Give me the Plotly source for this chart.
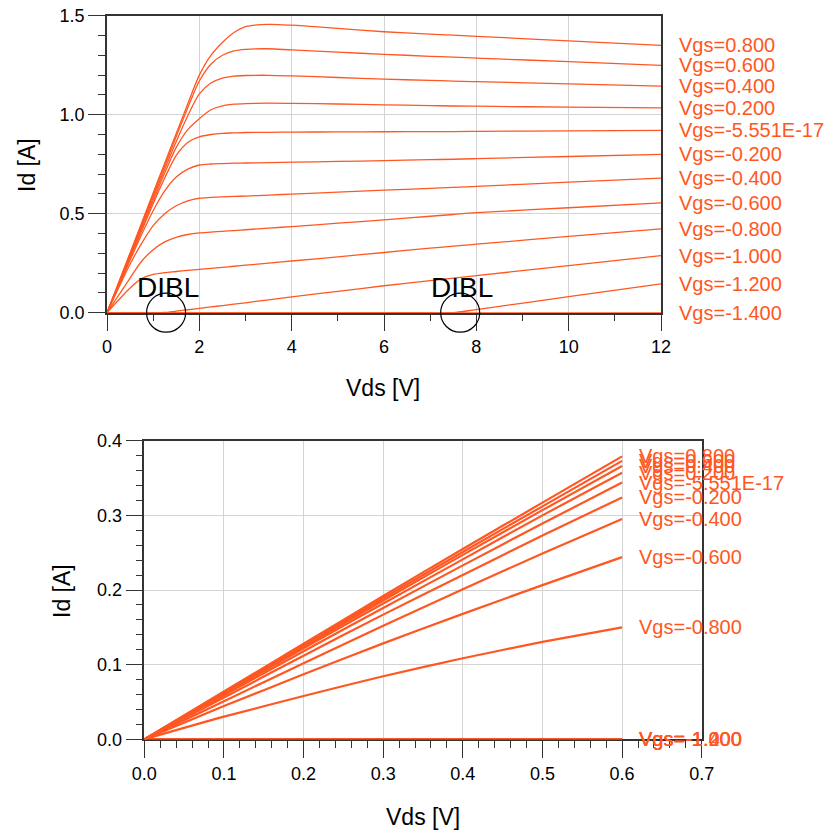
import plotly.graph_objects as go

# ---------------- data ----------------
vgs_labels = ["Vgs=0.800", "Vgs=0.600", "Vgs=0.400", "Vgs=0.200", "Vgs=-5.551E-17",
              "Vgs=-0.200", "Vgs=-0.400", "Vgs=-0.600", "Vgs=-0.800", "Vgs=-1.000",
              "Vgs=-1.200", "Vgs=-1.400"]

# output characteristics, Vds sweep 0..12 V
vds_out = [0, 0.5, 0.75, 1, 1.25, 1.5, 1.75, 2, 2.25, 2.5, 2.75, 3, 3.5, 4, 5, 6, 7, 7.5, 8, 10, 12]
id_out_p08 = [0, 0.302, 0.453, 0.605, 0.755, 0.905, 1.055, 1.200, 1.300, 1.365, 1.415, 1.445, 1.456, 1.452, 1.436, 1.419, 1.407, 1.402, 1.396, 1.373, 1.350]
id_out_p06 = [0, 0.297, 0.445, 0.594, 0.742, 0.890, 1.035, 1.170, 1.255, 1.300, 1.322, 1.330, 1.333, 1.327, 1.316, 1.305, 1.295, 1.291, 1.286, 1.268, 1.249]
id_out_p04 = [0, 0.290, 0.435, 0.580, 0.725, 0.865, 0.995, 1.105, 1.160, 1.185, 1.195, 1.198, 1.199, 1.196, 1.188, 1.180, 1.173, 1.170, 1.167, 1.156, 1.144]
id_out_p02 = [0, 0.283, 0.424, 0.565, 0.705, 0.835, 0.925, 0.980, 1.025, 1.045, 1.053, 1.056, 1.058, 1.057, 1.054, 1.050, 1.046, 1.044, 1.043, 1.038, 1.034]
id_out_p00 = [0, 0.275, 0.412, 0.550, 0.680, 0.795, 0.860, 0.888, 0.900, 0.906, 0.908, 0.910, 0.911, 0.912, 0.913, 0.914, 0.915, 0.915, 0.916, 0.918, 0.921]
id_out_m02 = [0, 0.265, 0.395, 0.515, 0.615, 0.685, 0.725, 0.746, 0.751, 0.753, 0.755, 0.756, 0.758, 0.760, 0.764, 0.768, 0.773, 0.775, 0.778, 0.789, 0.800]
id_out_m04 = [0, 0.245, 0.350, 0.440, 0.500, 0.540, 0.565, 0.578, 0.582, 0.585, 0.587, 0.589, 0.594, 0.599, 0.609, 0.619, 0.628, 0.633, 0.638, 0.659, 0.680]
id_out_m06 = [0, 0.175, 0.260, 0.318, 0.358, 0.381, 0.395, 0.403, 0.407, 0.411, 0.415, 0.419, 0.427, 0.435, 0.452, 0.469, 0.487, 0.496, 0.505, 0.530, 0.555]
id_out_m08 = [0, 0.125, 0.172, 0.193, 0.202, 0.208, 0.214, 0.219, 0.224, 0.229, 0.2345, 0.240, 0.250, 0.261, 0.282, 0.304, 0.326, 0.336, 0.346, 0.385, 0.423]
id_out_m10 = [0, 0, 0, 0, 0.001, 0.008, 0.015, 0.022, 0.029, 0.036, 0.043, 0.050, 0.065, 0.080, 0.108, 0.136, 0.162, 0.175, 0.187, 0.238, 0.288]
id_out_m12 = [0, 0, 0, 0, 0, 0, 0, 0, 0, 0, 0, 0, 0, 0, 0, 0, 0, 0, 0.016, 0.081, 0.146]
id_out_m14 = [0, 0, 0, 0, 0, 0, 0, 0, 0, 0, 0, 0, 0, 0, 0, 0, 0, 0, 0, 0, 0]

# linear region, Vds sweep 0..0.6 V
vds_lin = [0, 0.1, 0.2, 0.3, 0.4, 0.5, 0.6]
id_lin_p08 = [0, 0.064, 0.128, 0.192, 0.255, 0.317, 0.379]
id_lin_p06 = [0, 0.063, 0.126, 0.189, 0.251, 0.312, 0.373]
id_lin_p04 = [0, 0.062, 0.124, 0.186, 0.247, 0.307, 0.366]
id_lin_p02 = [0, 0.061, 0.122, 0.182, 0.241, 0.300, 0.357]
id_lin_p00 = [0, 0.059, 0.118, 0.176, 0.233, 0.289, 0.344]
id_lin_m02 = [0, 0.056, 0.112, 0.167, 0.220, 0.273, 0.324]
id_lin_m04 = [0, 0.051, 0.102, 0.152, 0.201, 0.249, 0.295]
id_lin_m06 = [0, 0.0445, 0.087, 0.1285, 0.168, 0.2065, 0.244]
id_lin_m08 = [0, 0.0303, 0.058, 0.0845, 0.1085, 0.1305, 0.150]
id_lin_m10 = [0, 0, 0, 0, 0, 0, 0]
id_lin_m12 = [0, 0, 0, 0, 0, 0, 0]
id_lin_m14 = [0, 0, 0, 0, 0, 0, 0]

# DIBL markers: where the subthreshold curves lift off the axis
dibl_vds = [1.28, 7.65]
dibl_id = [0.0, 0.0]
dibl_text_vds = [1.33, 7.70]
dibl_text_id = [0.125, 0.125]

# ---------------- styling ----------------
ORANGE = "#ff5722"
FONT = "Liberation Sans, Arial, sans-serif"
AXIS_COL = "#333333"
GRID_COL = "#d4d4d4"

out_series = [id_out_p08, id_out_p06, id_out_p04, id_out_p02, id_out_p00, id_out_m02,
              id_out_m04, id_out_m06, id_out_m08, id_out_m10, id_out_m12, id_out_m14]
lin_series = [id_lin_p08, id_lin_p06, id_lin_p04, id_lin_p02, id_lin_p00, id_lin_m02,
              id_lin_m04, id_lin_m06, id_lin_m08, id_lin_m10, id_lin_m12, id_lin_m14]

fig = go.Figure()
annotations = []

for name, ys in zip(vgs_labels, out_series):
    fig.add_trace(go.Scatter(x=vds_out, y=ys, mode="lines", name=name,
                             line=dict(color=ORANGE, width=1.3, shape="spline", smoothing=0.8),
                             cliponaxis=False, xaxis="x", yaxis="y", hoverinfo="skip"))
    annotations.append(dict(x=vds_out[-1], y=ys[-1], xref="x", yref="y", text=name,
                            showarrow=False, xanchor="left", yanchor="middle", xshift=16,
                            font=dict(family=FONT, size=20, color=ORANGE)))

for name, ys in zip(vgs_labels, lin_series):
    fig.add_trace(go.Scatter(x=vds_lin, y=ys, mode="lines", name=name,
                             line=dict(color=ORANGE, width=2.2, shape="spline", smoothing=0.6),
                             cliponaxis=False, xaxis="x2", yaxis="y2", hoverinfo="skip"))
    annotations.append(dict(x=vds_lin[-1], y=ys[-1], xref="x2", yref="y2", text=name,
                            showarrow=False, xanchor="left", yanchor="middle", xshift=15,
                            font=dict(family=FONT, size=20, color=ORANGE)))

# DIBL circles
fig.add_trace(go.Scatter(x=dibl_vds, y=dibl_id, mode="markers",
                         marker=dict(symbol="circle-open", size=39, color="black",
                                     line=dict(width=1.2, color="black")),
                         cliponaxis=False, xaxis="x", yaxis="y", hoverinfo="skip"))
for xv, yv in zip(dibl_text_vds, dibl_text_id):
    annotations.append(dict(x=xv, y=yv, xref="x", yref="y", text="DIBL", showarrow=False,
                            xanchor="center", yanchor="middle",
                            font=dict(family=FONT, size=28, color="black")))

# axis titles
title_font = dict(family=FONT, size=23, color="black")
annotations += [
    dict(x=383 / 825, y=1 - 388 / 835, xref="paper", yref="paper", text="Vds [V]",
         showarrow=False, xanchor="center", yanchor="middle", font=title_font),
    dict(x=27 / 825, y=1 - 165 / 835, xref="paper", yref="paper", text="Id [A]",
         showarrow=False, xanchor="center", yanchor="middle", textangle=-90, font=title_font),
    dict(x=423 / 825, y=1 - 817 / 835, xref="paper", yref="paper", text="Vds [V]",
         showarrow=False, xanchor="center", yanchor="middle", font=title_font),
    dict(x=62 / 825, y=1 - 591 / 835, xref="paper", yref="paper", text="Id [A]",
         showarrow=False, xanchor="center", yanchor="middle", textangle=-90, font=title_font),
]


def axis_style(rng, dtick, minor_dtick, fmt, domain, anchor):
    return dict(
        domain=domain, range=rng, anchor=anchor, automargin=False,
        dtick=dtick, tick0=0, tickformat=fmt,
        ticks="outside", ticklen=17, tickwidth=1.3, tickcolor=AXIS_COL,
        minor=dict(dtick=minor_dtick, tick0=0, ticks="outside", ticklen=7,
                   tickwidth=1.3, tickcolor=AXIS_COL, showgrid=False),
        showgrid=True, gridcolor=GRID_COL, gridwidth=1,
        showline=True, linecolor=AXIS_COL, linewidth=1.5, mirror=True,
        zeroline=False, layer="below traces",
        tickfont=dict(family=FONT, size=18, color="black"),
        fixedrange=True,
    )


fig.update_layout(
    template="none",
    autosize=False,
    width=825, height=835,
    margin=dict(l=0, r=0, t=0, b=0, pad=0, autoexpand=False),
    paper_bgcolor="white", plot_bgcolor="white",
    showlegend=False,
    font=dict(family=FONT),
    xaxis=axis_style([0, 12], 2, 1, "d", [107 / 825, 661 / 825], "y"),
    yaxis=axis_style([0, 1.5], 0.5, 0.1, ".1f", [1 - 312.7 / 835, 1 - 15.7 / 835], "x"),
    xaxis2=axis_style([0, 0.7], 0.1, 0.02, ".1f", [144.3 / 825, 701.7 / 825], "y2"),
    yaxis2=axis_style([0, 0.4], 0.1, 0.02, ".1f", [1 - 739.3 / 835, 1 - 440.7 / 835], "x2"),
    annotations=annotations,
)

fig.write_html("out.html", config={"responsive": False, "displayModeBar": False})
